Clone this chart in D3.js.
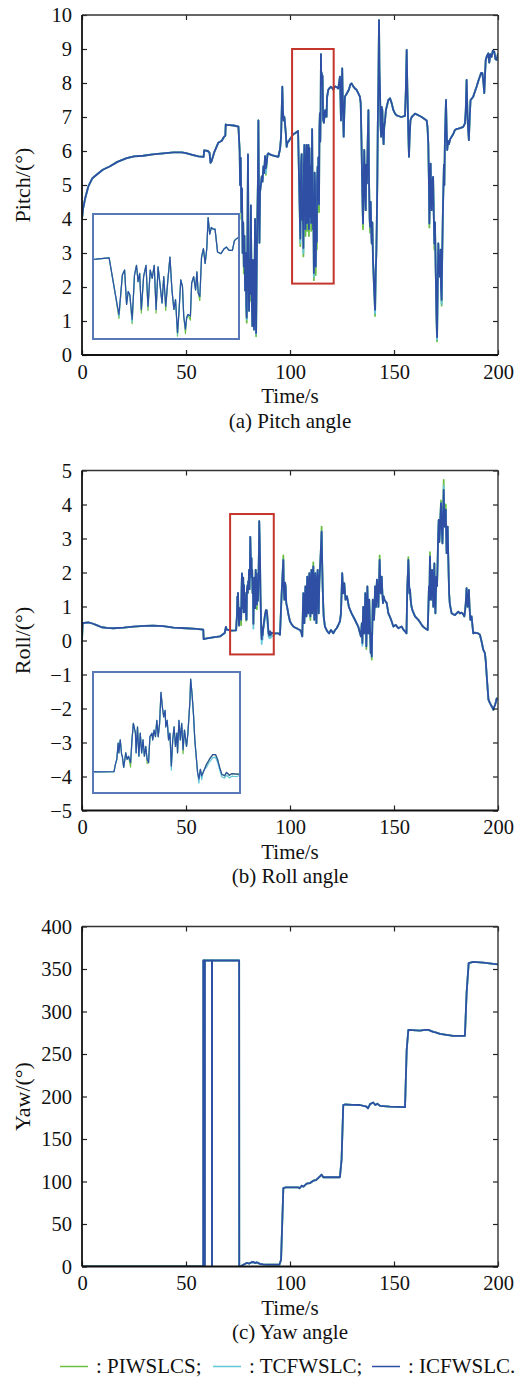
<!DOCTYPE html>
<html><head><meta charset="utf-8">
<script src="https://cdn.jsdelivr.net/npm/d3@7"></script>
<style>
body{margin:0;background:#fff}
svg{display:block}
text{font-family:"Liberation Serif","Times New Roman",serif;fill:#111}
</style>
</head><body><svg id="c" width="521" height="1378"></svg>
<script>
// ---------------- DATA ----------------
const xTicks = [0, 50, 100, 150, 200];
const pitchTicks = [0, 1, 2, 3, 4, 5, 6, 7, 8, 9, 10];
const rollTicks = [-5, -4, -3, -2, -1, 0, 1, 2, 3, 4, 5];
const yawTicks = [0, 50, 100, 150, 200, 250, 300, 350, 400];
const seriesNames = ["PIWSLCS", "TCFWSLC", "ICFWSLC"];

// Pitch, ICFWSLC  [time s, angle deg]
const pitchICFWSLC = [[0,4.0],[0.5,4.3],[1.5,4.6],[3,4.95],[5,5.2],[7,5.3],[10,5.45],[13.5,5.55],[17,5.68],[21.5,5.79],[25,5.84],[29.4,5.86],[34,5.9],[39,5.93],[44,5.96],[48,5.96],[50,5.94],[53.5,5.88],[56,5.84],[58.5,5.83],[58.7,6.02],[60.5,6.0],[61.3,5.95],[61.8,5.65],[62.3,5.7],[63.5,5.95],[65.5,6.24],[67.2,6.3],[68.3,6.42],[68.9,6.45],[69.1,6.78],[69.4,6.76],[71,6.76],[73,6.75],[75.2,6.72],
[75.8,6.0],[76.0,5.0],[76.3,5.8],[76.6,4.2],[76.9,4.9],[77.2,3.0],[77.5,3.9],[77.8,2.6],[78.1,3.5],[78.4,1.9],[78.7,3.0],[79.0,1.4],[79.2,1.1],[79.5,3.2],[79.8,5.9],[80.0,3.5],[80.3,1.3],[80.6,2.8],[80.9,1.8],[81.2,4.4],[81.5,2.0],[81.9,0.85],[82.2,2.8],[82.5,1.5],[82.7,0.75],[83.0,2.5],[83.2,4.0],[83.5,2.0],[83.7,0.65],[84.0,2.6],[84.3,4.1],[84.6,5.2],[84.8,6.9],[85.1,4.4],[85.3,3.3],[85.6,4.8],[86.0,5.0],[86.4,5.25],[86.8,5.1],[87.2,5.55],[87.6,5.35],[88.0,5.85],[88.4,5.5],[88.8,5.65],[89.2,5.9],[89.6,5.93],[90.4,5.9],[91.2,5.88],[92.5,5.86],[94.4,5.83],[95.2,6.05],[95.7,6.4],[96.3,7.89],[96.6,7.2],[96.9,6.9],[97.3,7.0],[97.6,6.8],[98.0,6.5],[98.4,6.12],[98.8,6.25],[99.2,6.27],[100,6.35],[100.8,6.42],[101.6,6.5],[102.42,6.52],
[103.88,6.59],[104.61,4.43],[104.97,3.42],[105.35,5.63],[105.6,5.91],[105.82,3.98],[106.0,4.71],[106.18,4.53],[106.44,3.15],[106.7,5.63],[106.92,6.18],[107.1,5.26],[107.27,5.73],[107.46,3.7],[107.71,5.54],[107.98,6.18],[108.2,3.88],[108.45,5.91],[108.67,5.45],[108.89,6.18],[109.1,3.7],[109.32,6.09],[109.54,5.08],[109.76,4.07],[109.95,5.54],[110.17,3.88],[110.39,5.26],[110.64,6.64],[110.86,4.8],[111.08,3.7],[111.26,4.25],[111.48,2.41],[111.66,3.7],[111.84,5.36],[112.03,4.99],[112.17,3.33],[112.36,2.6],[112.5,3.24],[112.64,3.42],[112.91,3.33],[113.05,5.17],[113.27,5.54],[113.49,4.8],[113.63,5.81],[113.78,4.62],[113.96,4.43],[114.15,6.64],[114.36,7.11],[114.55,6.28],[114.73,7.11],[114.88,8.85],[115.06,7.93],[115.24,8.3],[115.43,8.21],[115.65,8.21],[115.93,6.92],[116.3,6.83],[116.67,7.11],[116.92,7.2],[117.21,7.01],[117.58,7.01],[117.8,7.56],[118.02,7.66],
[118.4,7.8],[119.0,7.85],[119.7,7.89],[120.3,7.85],[120.8,7.8],[121.6,7.9],[122.4,7.88],[123.2,7.84],[123.6,8.0],[124.0,8.19],[124.3,7.5],[124.5,6.9],[124.8,7.6],[125.1,8.43],[125.4,7.4],[125.8,6.42],[126.1,7.1],[126.4,7.6],[127.4,7.7],[128.3,7.8],[129.0,7.95],[129.6,7.99],[130.4,7.9],[131.2,7.84],[132.0,7.8],[132.8,7.7],[133.6,7.6],[134.0,7.4],[134.4,6.2],[134.7,5.0],[135.1,3.87],[135.4,5.2],[135.7,6.03],[136.0,4.9],[136.4,4.26],[136.7,5.6],[137.0,5.05],[137.4,6.4],[137.7,7.2],[138.0,5.1],[138.3,4.0],[138.5,3.77],[138.8,4.5],[139.1,3.6],[139.3,3.28],[139.6,3.9],[139.9,2.8],[140.1,2.5],[140.4,2.0],[140.7,1.6],[140.9,1.33],[141.2,2.4],[141.5,3.0],[141.7,3.77],[142.0,5.2],[142.2,6.71],[142.5,8.0],[142.8,9.85],[143.0,8.4],[143.3,7.7],[143.5,6.8],[143.8,6.42],[144.1,7.3],[144.4,7.2],[144.7,6.5],[145.0,6.2],[145.3,6.7],[145.7,6.9],[146.1,7.2],[146.5,7.3],[147.3,7.5],[148.1,7.55],[148.9,7.4],[149.7,7.2],[150.5,7.1],[151.3,7.05],[152.1,7.03],[153.5,7.0],[155.3,7.03],[155.7,7.8],[156.1,8.97],[156.4,7.9],[156.6,7.4],[156.9,6.5],[157.2,5.83],[157.5,6.4],[157.9,6.9],[158.5,7.0],[159.3,7.05],[160.1,7.1],[161.7,7.05],[163.3,7.0],[164.5,6.95],[165.7,6.9],[166.1,6.7],[166.5,6.2],[166.8,5.0],[167.0,3.87],[167.3,4.8],[167.6,5.63],[167.9,4.7],[168.1,4.26],[168.4,5.0],[168.8,5.24],[169.1,4.2],[169.4,3.28],[169.7,3.9],[170.0,2.69],[170.2,2.0],[170.4,1.2],[170.7,0.53],[171.0,2.0],[171.3,3.28],[171.6,2.6],[172.1,2.3],[172.4,3.1],[172.6,2.0],[172.9,1.62],[173.2,3.0],[173.5,4.2],[173.7,4.75],[174.0,5.6],[174.2,5.0],[174.5,6.42],[174.8,7.0],[175.0,7.5],[175.3,6.6],[175.6,6.03],[176.0,6.3],[176.4,6.2],[177.0,6.35],[177.7,6.42],[178.5,6.5],[179.3,6.62],[180.1,6.65],[180.9,6.66],[182.1,6.68],[183.3,6.71],[184.1,6.81],[184.5,7.2],[184.9,8.09],[185.2,7.4],[185.4,6.9],[185.7,6.6],[186.0,6.32],[186.4,7.0],[186.8,7.5],[187.5,7.55],[188.1,7.6],[188.9,7.75],[189.7,7.89],[190.5,8.05],[191.3,8.19],[191.9,8.3],[192.5,8.29],[193.0,8.0],[193.4,7.7],[193.8,8.3],[194.1,8.68],[194.7,8.8],[195.3,8.87],[195.8,8.6],[196.3,8.85],[196.9,8.77],[197.5,8.95],[198.2,8.92],[198.8,8.7],[199.4,8.68],[200,8.87]];
// points where the other two filters visibly differ from ICFWSLC
const pitchPIWSLCSDiff = [[76.6,4.0],[77.8,2.4],[79.2,0.95],[80.9,1.6],[83.7,0.55],[88.4,5.3],[104.97,3.2],[106.44,2.9],[107.46,3.5],[108.2,3.65],[109.1,3.5],[110.17,3.65],[111.48,2.2],[112.36,2.35],[112.91,3.1],[113.96,4.2],[135.1,3.7],[138.5,3.6],[140.9,1.15],[167.0,3.75],[169.4,3.1],[170.7,0.4],[172.9,1.45]];
const pitchTCFWSLCDiff = [[79.2,1.05],[83.7,0.62],[84.3,3.8],[88.4,5.35],[104.97,3.3],[106.44,3.0],[111.48,2.3],[140.9,1.22],[170.7,0.45],[172.9,1.5],[174.8,7.25]];
const pitchZoomWindow = {t: [101, 121], v: [2.1, 9.0]};
const pitchInsetWindow = {t: [102.2, 118.2], v: [2.1, 9.0]};

// Roll, ICFWSLC
const rollICFWSLC = [[0,0.0],[0.3,0.5],[1,0.52],[3,0.53],[5,0.5],[7,0.45],[9.5,0.39],[12,0.37],[15,0.36],[20,0.38],[24.7,0.41],[30,0.43],[34.3,0.44],[39,0.42],[44,0.38],[50,0.36],[55,0.34],[58.3,0.32],[58.5,0.04],[60,0.06],[63,0.09],[66.3,0.12],[68.6,0.22],[69.2,0.4],[69.6,0.32],[70.5,0.31],
[71.5,0.29],[74.1,0.30],[74.3,0.55],[74.5,0.72],[74.7,1.29],[74.8,0.95],[75.0,1.40],[75.2,0.89],[75.3,0.83],[75.5,0.44],[75.8,0.95],[76.0,0.72],[76.2,0.83],[76.5,0.61],[76.7,1.40],[76.9,1.97],[77.2,1.63],[77.3,0.95],[77.5,1.85],[77.7,0.83],[77.9,1.63],[78.1,0.95],[78.3,1.40],[78.5,0.83],[78.7,1.17],[78.9,0.72],[79.1,0.61],[79.3,1.51],[79.6,1.63],[79.7,1.40],[79.9,1.74],[80.1,1.51],[80.3,2.08],[80.5,1.51],[80.7,1.97],[80.9,3.05],[81.1,2.54],[81.3,2.20],[81.5,2.42],[81.6,1.85],[81.8,2.08],[82.0,1.40],[82.2,1.63],[82.4,0.49],[82.6,1.40],[82.8,1.85],[83.0,1.17],[83.2,1.63],[83.3,0.95],[83.5,2.08],[83.7,1.40],[83.9,1.97],[84.1,1.06],[84.3,1.74],[84.6,1.17],[84.8,1.63],[85.1,2.77],[85.2,3.51],[85.4,2.99],[85.6,2.31],[85.8,1.40],[86.0,0.83],[86.2,0.27],[86.4,0.04],[86.6,0.38],[86.8,0.15],[87.0,0.27],[87.2,0.38],[87.5,0.55],[87.9,0.72],[88.4,0.89],[88.8,0.89],[89.1,0.72],[89.4,0.44],[89.7,0.21],[90.1,0.15],[90.4,0.27],[90.8,0.17],[91.2,0.23],[91.8,0.21],
[92.8,0.21],[94.4,0.21],[95.2,0.17],[95.6,0.8],[96.0,1.39],[96.4,1.9],[96.8,2.37],[97.0,1.6],[97.3,1.2],[97.6,1.7],[97.9,1.59],[98.2,1.1],[98.6,0.99],[99.3,0.75],[100,0.56],[100.8,0.48],[101.6,0.41],[102.4,0.38],[103.2,0.36],[104.0,0.33],[104.8,0.31],[105.4,0.25],[105.9,0.12],[106.2,0.9],[106.4,1.39],[106.7,0.8],[106.9,0.51],[107.2,1.2],[107.4,1.59],[107.7,1.0],[107.9,0.71],[108.1,1.5],[108.3,1.88],[108.6,1.2],[108.8,0.8],[109.1,1.6],[109.3,1.98],[109.6,1.1],[109.8,0.71],[110.1,1.5],[110.3,2.08],[110.5,1.3],[110.7,0.8],[111.0,1.7],[111.2,2.18],[111.5,1.2],[111.7,0.61],[112.0,1.5],[112.2,1.98],[112.5,1.1],[112.7,0.51],[113.0,1.6],[113.3,2.08],[113.6,1.3],[113.8,0.8],[114.1,1.7],[114.4,2.08],[114.8,2.6],[115.2,3.2],[115.5,2.2],[115.7,1.59],[116.0,1.0],[116.2,0.71],[116.8,0.41],[117.6,0.31],[118.2,0.25],[118.8,0.21],[119.7,0.31],[120.8,0.21],[121.6,0.3],[122.4,0.36],[123.2,0.45],[124.0,0.56],[124.5,0.8],[124.8,1.4],[125.1,1.98],[125.4,1.6],[125.6,1.39],[126.1,1.69],[126.7,1.2],[127.4,1.3],[128.3,0.99],[129.6,0.8],[131.2,0.61],[132.8,0.41],[133.5,0.25],[134.1,0.12],[134.5,0.5],[134.8,-0.07],[135.0,0.5],[135.2,0.99],[135.5,0.6],[135.7,0.21],[136.0,0.9],[136.2,1.39],[136.5,0.5],[136.7,-0.17],[137.0,0.8],[137.2,1.59],[137.5,0.8],[137.7,0.21],[137.9,0.7],[138.1,1.2],[138.5,0.3],[138.8,-0.37],[139.0,0.2],[139.3,-0.47],[139.6,0.5],[139.8,1.2],[140.1,0.8],[140.4,0.61],[140.7,1.1],[140.9,1.59],[141.2,1.2],[141.4,0.99],[141.6,1.5],[141.8,1.79],[142.2,1.3],[142.5,0.99],[142.8,1.7],[143.1,2.37],[143.4,1.7],[143.6,1.39],[143.9,1.6],[144.1,1.88],[144.4,1.4],[144.7,1.1],[145.0,1.3],[145.4,1.2],[145.9,1.15],[146.5,1.1],[147.3,0.8],[148.0,0.7],[148.6,0.61],[149.2,0.5],[149.7,0.41],[150.8,0.46],[152.1,0.36],[153.7,0.41],[154.5,0.32],[155.3,0.27],[156.0,0.21],[156.2,0.9],[156.4,1.59],[156.7,2.0],[156.9,2.37],[157.2,1.8],[157.4,1.39],[157.7,1.5],[158.0,1.2],[158.4,1.0],[158.8,0.9],[159.5,0.8],[160.1,0.71],[161.7,0.61],[163.3,0.46],[164.1,0.4],[164.9,0.36],[166.2,0.31],[166.5,0.9],[166.8,1.59],[167.0,1.2],[167.3,2.47],[167.5,1.8],[167.8,1.2],[168.0,1.7],[168.3,2.08],[168.6,1.5],[168.9,0.99],[169.1,1.7],[169.4,2.27],[169.6,1.5],[169.9,0.8],[170.1,1.3],[170.4,1.88],[170.7,1.6],[171.0,2.37],[171.2,3.0],[171.5,3.55],[171.8,2.9],[172.0,3.16],[172.3,3.6],[172.6,4.04],[172.9,3.4],[173.3,2.86],[173.6,3.6],[173.9,4.43],[174.1,3.8],[174.4,3.35],[174.6,3.6],[174.9,3.85],[175.1,3.1],[175.3,2.57],[175.5,2.9],[175.8,3.35],[176.1,2.4],[176.5,1.39],[176.8,1.1],[177.1,0.99],[177.7,0.8],[178.5,0.77],[179.3,0.75],[180.1,0.8],[180.9,0.85],[181.7,0.8],[182.5,0.82],[183.2,0.78],[183.8,0.71],[184.2,0.9],[184.5,1.1],[184.9,1.54],[185.1,1.2],[185.4,0.99],[185.7,1.2],[186.0,1.49],[186.3,1.0],[186.7,0.61],[187.3,0.71],[187.7,0.45],[188.1,0.21],[188.9,0.23],[189.7,0.22],[190.5,0.21],[191.3,0.17],[192.1,-0.03],[192.9,-0.27],[193.7,-0.37],[194.1,-0.6],[194.6,-1.06],[195.0,-1.4],[195.4,-1.74],[196.2,-1.85],[197.0,-1.94],[197.8,-2.04],[198.2,-1.95],[198.6,-1.89],[199.0,-1.8],[199.4,-1.7],[200,-1.74]];
const rollPIWSLCSDiff = [[76.5,0.45],[78.9,0.58],[84.1,0.92],[96.8,2.5],[109.8,0.6],[111.2,2.3],[115.2,3.35],[136.7,-0.25],[139.3,-0.56],[143.1,2.5],[156.9,2.45],[167.3,2.6],[172.6,4.12],[173.9,4.72],[174.9,4.0]];
const rollTCFWSLCDiff = [[82.4,0.35],[86.4,-0.1],[86.8,0.02],[87.5,0.45],[87.9,0.62],[88.4,0.78],[88.8,0.79],[89.1,0.62],[89.4,0.35],[89.7,0.12],[90.1,0.07],[90.4,0.17],[90.8,0.08],[91.2,0.14],[91.8,0.12],[134.8,-0.15],[173.9,4.55]];
const rollZoomWindow = {t: [71.2, 92.2], v: [-0.41, 3.72]};
const rollInsetWindow = {t: [71.2, 92.2], v: [-0.41, 3.72]};

// Yaw, ICFWSLC
const yawICFWSLC = [[0,0],[58.3,0],[58.32,360],[59.0,360],[59.02,0],[59.06,0],[59.08,360],[62.45,360],[62.47,0],[62.52,0],[62.54,360],[75.55,360],[75.6,0],[76.5,0.5],[77.6,2.1],[79.2,4.2],[80.5,3.5],[81.5,5.0],[82.4,5.3],[83.2,4.0],[84,4.8],[85.6,3.1],[87,2.5],[88.8,2.1],[94.9,2.1],[95.7,8],[96.8,92.3],[98,93],[101.6,93],[104,93],[104.6,92],[105.6,95],[106.5,94],[108,97.5],[109.5,98],[111.2,101],[112.5,101.5],[114.4,106],[115.2,108],[116,105],[124,105],[124.8,126],[125.6,189.8],[126.4,190.6],[130,190.2],[133.6,190],[136.8,188],[137.5,186],[138.5,191],[140,193],[141,190],[142,191.5],[143.3,189],[148,188],[155.3,187.5],[156.1,254.9],[156.9,278.4],[162.5,277.6],[165,278.5],[166.5,278.4],[168.9,276],[170,275.5],[172.1,273.7],[175.3,272.5],[178.5,271.4],[184.1,271.4],[184.9,321.6],[185.9,356.9],[188.1,358.4],[192.9,357.6],[197.8,356],[200,355.5]];
const yawPIWSLCSDiff = [];
const yawTCFWSLCDiff = [];

// ---------------- DRAWING ----------------
const colors = {PIWSLCS: "#6cbf45", TCFWSLC: "#63c7d8", ICFWSLC: "#2f4fa4"};
const X0 = 82, X1 = 498;
const x = d3.scaleLinear().domain([0, 200]).range([X0, X1]);
const svg = d3.select("#c");
const FONT = 21;
const TICKFONT = 20.5;

function withDiff(base, diff) {
  const out = base.map(d => [d[0], d[1]]);
  diff.forEach(([t, v]) => {
    let bi = 0, bd = Infinity;
    out.forEach((d, i) => { const dd = Math.abs(d[0] - t); if (dd < bd) { bd = dd; bi = i; } });
    out[bi][1] = v;
  });
  return out;
}

const panels = [
  {top: 15, bottom: 355, dom: [0, 10], ticks: pitchTicks, label: "Pitch/(°)", cap: "(a) Pitch angle",
   icf: pitchICFWSLC, tcf: withDiff(pitchICFWSLC, pitchTCFWSLCDiff), piw: withDiff(pitchICFWSLC, pitchPIWSLCSDiff),
   zoom: pitchZoomWindow, inset: {box: [93, 214, 239, 339], win: pitchInsetWindow}},
  {top: 470.5, bottom: 810.5, dom: [-5, 5], ticks: rollTicks, label: "Roll/(°)", cap: "(b) Roll angle",
   icf: rollICFWSLC, tcf: withDiff(rollICFWSLC, rollTCFWSLCDiff), piw: withDiff(rollICFWSLC, rollPIWSLCSDiff),
   zoom: rollZoomWindow, inset: {box: [93, 672, 240, 793], win: rollInsetWindow}},
  {top: 926.5, bottom: 1266.5, dom: [0, 400], ticks: yawTicks, label: "Yaw/(°)", cap: "(c) Yaw angle",
   icf: yawICFWSLC, tcf: withDiff(yawICFWSLC, yawTCFWSLCDiff), piw: withDiff(yawICFWSLC, yawPIWSLCSDiff),
   zoom: null, inset: null}
];

const defs = svg.append("defs");

panels.forEach((p, pi) => {
  const y = d3.scaleLinear().domain(p.dom).range([p.bottom, p.top]);
  const g = svg.append("g");
  const cid = "clip" + pi;
  defs.append("clipPath").attr("id", cid).append("rect")
    .attr("x", X0).attr("y", p.top).attr("width", X1 - X0).attr("height", p.bottom - p.top);

  const line = d3.line().x(d => x(d[0])).y(d => y(d[1]));
  const lg = g.append("g").attr("clip-path", `url(#${cid})`);
  [["PIWSLCS", p.piw], ["TCFWSLC", p.tcf], ["ICFWSLC", p.icf]].forEach(([n, data]) => {
    lg.append("path").datum(data).attr("d", line).attr("fill", "none")
      .attr("stroke", colors[n]).attr("stroke-width", 1.8).attr("stroke-linejoin", "round");
  });

  if (p.zoom) {
    g.append("rect").attr("x", x(p.zoom.t[0])).attr("y", y(p.zoom.v[1]))
      .attr("width", x(p.zoom.t[1]) - x(p.zoom.t[0])).attr("height", y(p.zoom.v[0]) - y(p.zoom.v[1]))
      .attr("fill", "none").attr("stroke", "#c4362c").attr("stroke-width", 2);
    const [bx0, by0, bx1, by1] = p.inset.box;
    const ix = d3.scaleLinear().domain(p.inset.win.t).range([bx0 + 1, bx1 - 1]);
    const iy = d3.scaleLinear().domain(p.inset.win.v).range([by1 - 1, by0 + 1]);
    const icid = "iclip" + pi;
    defs.append("clipPath").attr("id", icid).append("rect")
      .attr("x", bx0).attr("y", by0).attr("width", bx1 - bx0).attr("height", by1 - by0);
    g.append("rect").attr("x", bx0).attr("y", by0).attr("width", bx1 - bx0).attr("height", by1 - by0)
      .attr("fill", "#fff");
    const il = d3.line().x(d => ix(d[0])).y(d => iy(d[1]));
    const ig = g.append("g").attr("clip-path", `url(#${icid})`);
    const sel = arr => arr.filter(d => d[0] >= p.inset.win.t[0] - 1.5 && d[0] <= p.inset.win.t[1] + 1.5);
    [["PIWSLCS", p.piw], ["TCFWSLC", p.tcf], ["ICFWSLC", p.icf]].forEach(([n, data]) => {
      ig.append("path").datum(sel(data)).attr("d", il).attr("fill", "none")
        .attr("stroke", colors[n]).attr("stroke-width", 1.2).attr("stroke-linejoin", "round");
    });
    g.append("rect").attr("x", bx0).attr("y", by0).attr("width", bx1 - bx0).attr("height", by1 - by0)
      .attr("fill", "none").attr("stroke", "#5878b8").attr("stroke-width", 2);
  }

  const styleAxis = sel => {
    sel.select(".domain").remove();
    sel.attr("font-size", TICKFONT).attr("font-family", "Liberation Serif, Times New Roman, serif");
    sel.selectAll(".tick line").attr("stroke", "#222").attr("stroke-width", 1.2);
    sel.selectAll("text").attr("fill", "#111");
  };
  g.append("g").attr("transform", `translate(0,${p.bottom})`)
    .call(d3.axisBottom(x).tickValues(xTicks).tickSize(-5).tickPadding(9).tickFormat(d3.format("d"))).call(styleAxis);
  g.append("g").attr("transform", `translate(0,${p.top})`)
    .call(d3.axisTop(x).tickValues(xTicks).tickSize(-5).tickFormat("")).call(styleAxis);
  g.append("g").attr("transform", `translate(${X0},0)`)
    .call(d3.axisLeft(y).tickValues(p.ticks).tickSize(-5).tickPadding(10).tickFormat(d3.format("d"))).call(styleAxis);
  g.append("g").attr("transform", `translate(${X1},0)`)
    .call(d3.axisRight(y).tickValues(p.ticks).tickSize(-5).tickFormat("")).call(styleAxis);

  g.append("line").attr("x1", X0).attr("x2", X1).attr("y1", p.top).attr("y2", p.top).attr("stroke", "#333").attr("stroke-width", 1.4);
  g.append("line").attr("x1", X1).attr("x2", X1).attr("y1", p.top).attr("y2", p.bottom).attr("stroke", "#333").attr("stroke-width", 1.4);
  g.append("line").attr("x1", X0).attr("x2", X0).attr("y1", p.top).attr("y2", p.bottom).attr("stroke", "#111").attr("stroke-width", 1.8);
  g.append("line").attr("x1", X0).attr("x2", X1).attr("y1", p.bottom).attr("y2", p.bottom).attr("stroke", "#111").attr("stroke-width", 1.8);

  g.append("text").attr("transform", `translate(30,${(p.top + p.bottom) / 2}) rotate(-90)`)
    .attr("text-anchor", "middle").attr("font-size", FONT + 1).text(p.label);
  g.append("text").attr("x", (X0 + X1) / 2).attr("y", p.bottom + 48)
    .attr("text-anchor", "middle").attr("font-size", FONT).text("Time/s");
  g.append("text").attr("x", (X0 + X1) / 2).attr("y", p.bottom + 72.5)
    .attr("text-anchor", "middle").attr("font-size", FONT).text(p.cap);
});

const legendItems = [
  {name: "PIWSLCS", text: ": PIWSLCS;", x: 60},
  {name: "TCFWSLC", text: ": TCFWSLC;", x: 213},
  {name: "ICFWSLC", text: ": ICFWSLC.", x: 372}
];
const lgd = svg.append("g");
legendItems.forEach(it => {
  lgd.append("line").attr("x1", it.x).attr("x2", it.x + 28).attr("y1", 1366.5).attr("y2", 1366.5)
    .attr("stroke", colors[it.name]).attr("stroke-width", 1.5);
  lgd.append("text").attr("x", it.x + 36).attr("y", 1373).attr("font-size", FONT).text(it.text);
});
</script>
</body></html>
